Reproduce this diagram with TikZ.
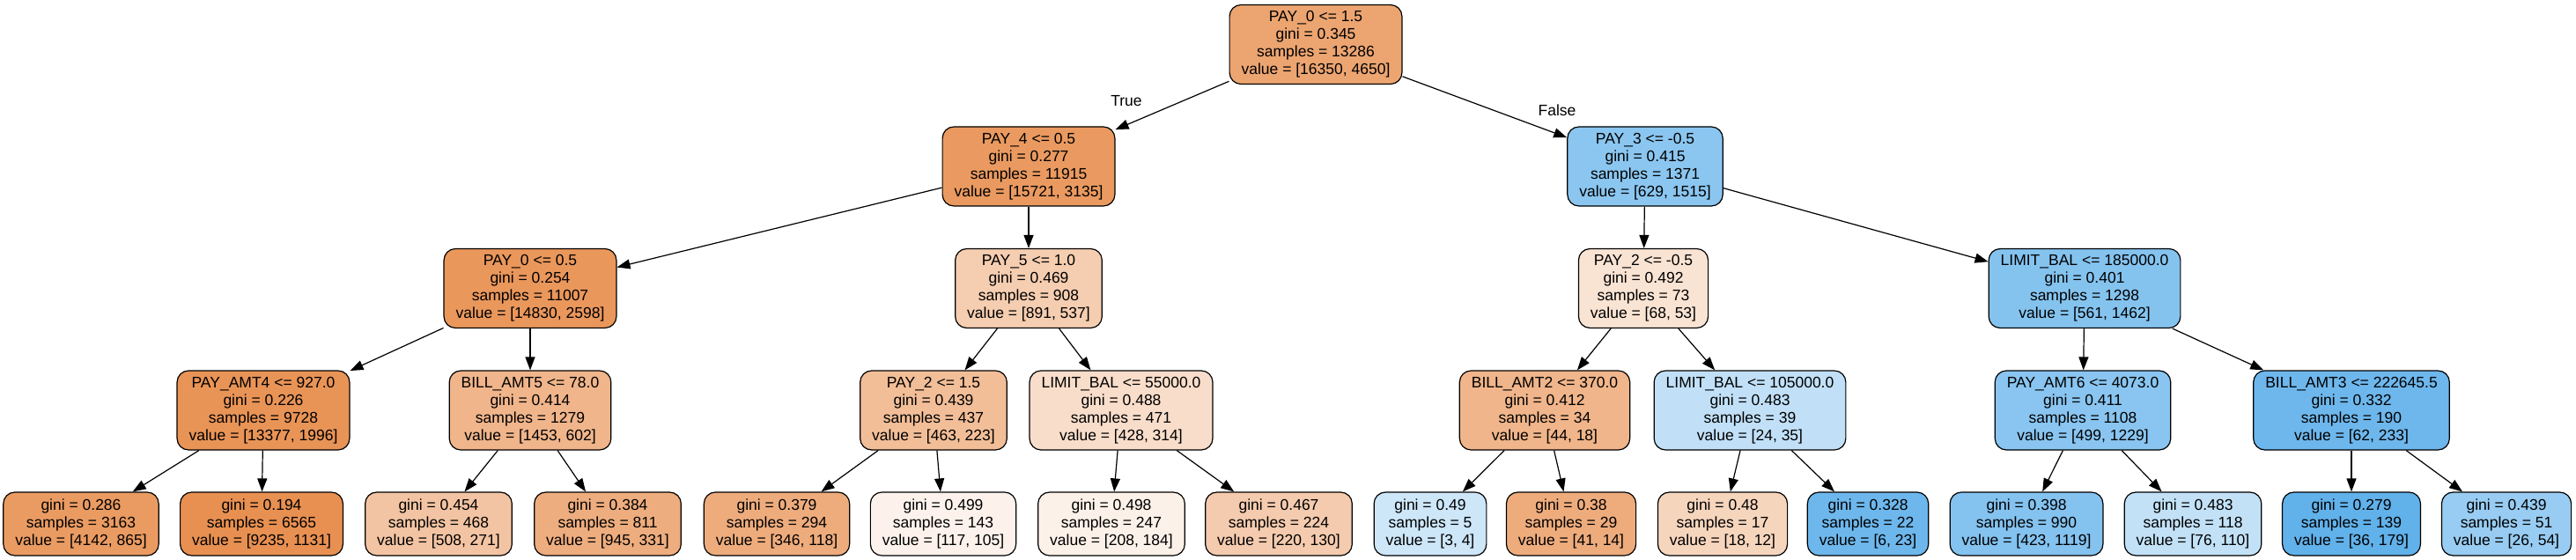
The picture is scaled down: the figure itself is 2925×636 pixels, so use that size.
\documentclass[tikz,border=0pt]{standalone}
\usepackage{fontspec}
\setmainfont{Liberation Sans}
\usetikzlibrary{arrows.meta}
\definecolor{oc}{RGB}{229,129,57}
\definecolor{bc}{RGB}{57,157,229}
\newcommand\nodefont{\fontsize{17.5}{20}\selectfont}
\tikzset{
  tn/.style={draw=black, line width=1.2pt, rounded corners=13pt, align=center,
    inner xsep=13.5pt, inner ysep=0pt, minimum height=90pt, font=\nodefont},
  lf/.style={tn, minimum height=72pt},
  arr/.style={-{Triangle[length=15pt,width=11pt]}, line width=1.2pt},
  lbl/.style={font=\nodefont, inner sep=0pt}
}
\begin{document}
\begin{tikzpicture}[x=1pt,y=-1pt]
\fill[white] (0,0) rectangle (2925,636);
\useasboundingbox (0,0) rectangle (2925,636);
% level 0
\node[tn, fill=oc!71.6!white] (n0) at (1494,50.5) {PAY\_0 <= 1.5\\gini = 0.345\\samples = 13286\\value = [16350, 4650]};
% level 1
\node[tn, fill=oc!80.1!white] (n1) at (1168,189) {PAY\_4 <= 0.5\\gini = 0.277\\samples = 11915\\value = [15721, 3135]};
\node[tn, fill=bc!58.5!white] (n2) at (1868,189) {PAY\_3 <= -0.5\\gini = 0.415\\samples = 1371\\value = [629, 1515]};
% level 2
\node[tn, fill=oc!82.5!white] (n3) at (602,327.5) {PAY\_0 <= 0.5\\gini = 0.254\\samples = 11007\\value = [14830, 2598]};
\node[tn, fill=oc!39.7!white] (n4) at (1168,327.5) {PAY\_5 <= 1.0\\gini = 0.469\\samples = 908\\value = [891, 537]};
\node[tn, fill=oc!22.1!white] (n5) at (1866,327.5) {PAY\_2 <= -0.5\\gini = 0.492\\samples = 73\\value = [68, 53]};
\node[tn, fill=bc!61.6!white] (n6) at (2367,327.5) {LIMIT\_BAL <= 185000.0\\gini = 0.401\\samples = 1298\\value = [561, 1462]};
% level 3
\node[tn, fill=oc!85.1!white] (n7) at (299,466) {PAY\_AMT4 <= 927.0\\gini = 0.226\\samples = 9728\\value = [13377, 1996]};
\node[tn, fill=oc!58.6!white] (n8) at (602,466) {BILL\_AMT5 <= 78.0\\gini = 0.414\\samples = 1279\\value = [1453, 602]};
\node[tn, fill=oc!51.8!white] (n9) at (1060,466) {PAY\_2 <= 1.5\\gini = 0.439\\samples = 437\\value = [463, 223]};
\node[tn, fill=oc!26.6!white] (n10) at (1273,466) {LIMIT\_BAL <= 55000.0\\gini = 0.488\\samples = 471\\value = [428, 314]};
\node[tn, fill=oc!59.1!white] (n11) at (1754,466) {BILL\_AMT2 <= 370.0\\gini = 0.412\\samples = 34\\value = [44, 18]};
\node[tn, fill=bc!31.4!white] (n12) at (1987,466) {LIMIT\_BAL <= 105000.0\\gini = 0.483\\samples = 39\\value = [24, 35]};
\node[tn, fill=bc!59.4!white] (n13) at (2365,466) {PAY\_AMT6 <= 4073.0\\gini = 0.411\\samples = 1108\\value = [499, 1229]};
\node[tn, fill=bc!73.4!white] (n14) at (2670,466) {BILL\_AMT3 <= 222645.5\\gini = 0.332\\samples = 190\\value = [62, 233]};
% leaves
\node[lf, fill=oc!79.1!white] (l1) at (92,595) {gini = 0.286\\samples = 3163\\value = [4142, 865]};
\node[lf, fill=oc!87.8!white] (l2) at (297,595) {gini = 0.194\\samples = 6565\\value = [9235, 1131]};
\node[lf, fill=oc!46.7!white] (l3) at (498,595) {gini = 0.454\\samples = 468\\value = [508, 271]};
\node[lf, fill=oc!65.0!white] (l4) at (690,595) {gini = 0.384\\samples = 811\\value = [945, 331]};
\node[lf, fill=oc!65.9!white] (l5) at (882,595) {gini = 0.379\\samples = 294\\value = [346, 118]};
\node[lf, fill=oc!10.3!white] (l6) at (1071,595) {gini = 0.499\\samples = 143\\value = [117, 105]};
\node[lf, fill=oc!11.5!white] (l7) at (1262,595) {gini = 0.498\\samples = 247\\value = [208, 184]};
\node[lf, fill=oc!40.9!white] (l8) at (1452,595) {gini = 0.467\\samples = 224\\value = [220, 130]};
\node[lf, fill=bc!25!white] (l9) at (1624,595) {gini = 0.49\\samples = 5\\value = [3, 4]};
\node[lf, fill=oc!65.9!white] (l10) at (1784,595) {gini = 0.38\\samples = 29\\value = [41, 14]};
\node[lf, fill=oc!33.3!white] (l11) at (1956,595) {gini = 0.48\\samples = 17\\value = [18, 12]};
\node[lf, fill=bc!73.9!white] (l12) at (2121,595) {gini = 0.328\\samples = 22\\value = [6, 23]};
\node[lf, fill=bc!62.2!white] (l13) at (2301,595) {gini = 0.398\\samples = 990\\value = [423, 1119]};
\node[lf, fill=bc!30.9!white] (l14) at (2490,595) {gini = 0.483\\samples = 118\\value = [76, 110]};
\node[lf, fill=bc!79.9!white] (l15) at (2670,595) {gini = 0.279\\samples = 139\\value = [36, 179]};
\node[lf, fill=bc!51.9!white] (l16) at (2846,595) {gini = 0.439\\samples = 51\\value = [26, 54]};
% edges
\foreach \a/\b in {n0/n1,n0/n2,n1/n3,n1/n4,n2/n5,n2/n6,n3/n7,n3/n8,n4/n9,n4/n10,n5/n11,n5/n12,n6/n13,n6/n14,
  n7/l1,n7/l2,n8/l3,n8/l4,n9/l5,n9/l6,n10/l7,n10/l8,n11/l9,n11/l10,n12/l11,n12/l12,n13/l13,n13/l14,n14/l15,n14/l16}
  \draw[arr] (\a) -- (\b);
\node[lbl] (tlab) at (1279,115) {True};
\node[lbl] (flab) at (1768,125) {False};
\end{tikzpicture}
\end{document}
